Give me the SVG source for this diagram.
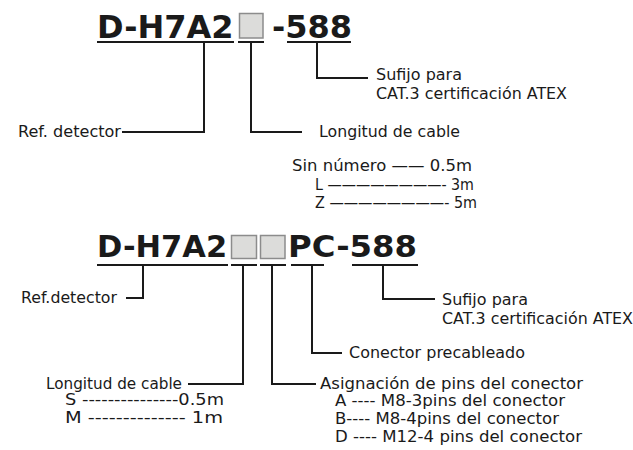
<svg xmlns="http://www.w3.org/2000/svg" width="633" height="450" viewBox="0 0 633 450">
<style>
.t{font-family:"DejaVu Sans","Verdana",sans-serif;font-size:15.5px;fill:#1a1a1a}
.h{font-family:"DejaVu Sans","Verdana",sans-serif;font-weight:bold;fill:#1a1a1a}
.l{stroke:#1a1a1a;stroke-width:2;fill:none}
.b{fill:#dcdcda;stroke:#8c8c8c;stroke-width:1.5}
</style>
<rect width="633" height="450" fill="#ffffff"/>
<g id="title1">
<text class="h" x="97" y="38" font-size="32">D-H7A2</text>
<rect class="b" x="239.5" y="13.5" width="23.5" height="24.5"/>
<text class="h" x="272" y="38" font-size="32">-588</text>
<line class="l" x1="97" y1="42" x2="234" y2="42"/>
<line class="l" x1="238" y1="42" x2="264" y2="42"/>
<line class="l" x1="287" y1="42" x2="351" y2="42"/>
</g>
<g id="suffix1">
<text class="t" x="376" y="80" textLength="86" lengthAdjust="spacingAndGlyphs">Sufijo para</text>
<text class="t" x="376" y="99" textLength="191" lengthAdjust="spacingAndGlyphs">CAT.3 certificación ATEX</text>
</g>
<g id="ref1"><text class="t" x="18" y="137" textLength="103" lengthAdjust="spacingAndGlyphs">Ref. detector</text></g>
<g id="len1">
<text class="t" x="319" y="137" textLength="141" lengthAdjust="spacingAndGlyphs">Longitud de cable</text>
<text class="t" x="292" y="171" textLength="180" lengthAdjust="spacingAndGlyphs">Sin número —— 0.5m</text>
<text class="t" x="315" y="190" textLength="159" lengthAdjust="spacingAndGlyphs">L ————————- 3m</text>
<text class="t" x="315" y="208" textLength="162" lengthAdjust="spacingAndGlyphs">Z ————————- 5m</text>
</g>
<g id="title2">
<text class="h" x="97" y="257" font-size="30.5">D-H7A2</text>
<rect class="b" x="231.5" y="235.5" width="25" height="23"/>
<rect class="b" x="260.5" y="235.5" width="24.5" height="23"/>
<text class="h" x="288" y="257" font-size="30.5" textLength="129" lengthAdjust="spacingAndGlyphs">PC-588</text>
<line class="l" x1="97" y1="265" x2="228" y2="265"/>
<line class="l" x1="231" y1="265" x2="257" y2="265"/>
<line class="l" x1="260" y1="265" x2="286" y2="265"/>
<line class="l" x1="291" y1="265" x2="324" y2="265"/>
<line class="l" x1="352" y1="265" x2="418" y2="265"/>
</g>
<g id="ref2"><text class="t" x="21" y="303" textLength="96" lengthAdjust="spacingAndGlyphs">Ref.detector</text></g>
<g id="suffix2">
<text class="t" x="442" y="305" textLength="86" lengthAdjust="spacingAndGlyphs">Sufijo para</text>
<text class="t" x="442" y="324" textLength="191" lengthAdjust="spacingAndGlyphs">CAT.3 certificación ATEX</text>
</g>
<g id="conn2"><text class="t" x="349" y="358" textLength="176" lengthAdjust="spacingAndGlyphs">Conector precableado</text></g>
<g id="len2">
<text class="t" x="46" y="389" textLength="136" lengthAdjust="spacingAndGlyphs">Longitud de cable</text>
<text class="t" x="65" y="405" textLength="159" lengthAdjust="spacingAndGlyphs">S ---------------0.5m</text>
<text class="t" x="65" y="423" textLength="158" lengthAdjust="spacingAndGlyphs">M --------------  1m</text>
</g>
<g id="pins2">
<text class="t" x="320" y="389" textLength="263" lengthAdjust="spacingAndGlyphs">Asignación de pins del conector</text>
<text class="t" x="335" y="406" textLength="230" lengthAdjust="spacingAndGlyphs">A ---- M8-3pins del conector</text>
<text class="t" x="335" y="424" textLength="224" lengthAdjust="spacingAndGlyphs">B---- M8-4pins del conector</text>
<text class="t" x="335" y="442" textLength="247" lengthAdjust="spacingAndGlyphs">D ---- M12-4 pins del conector</text>
</g>
<g id="connectors">
<polyline class="l" points="204,42 204,132 122,132"/>
<polyline class="l" points="251,42 251,132 302,132"/>
<polyline class="l" points="317,42 317,78 368,78"/>
<polyline class="l" points="143,265 143,298 126,298"/>
<polyline class="l" points="383,265 383,299 435,299"/>
<polyline class="l" points="312,265 312,353 342,353"/>
<polyline class="l" points="243,265 243,384 188,384"/>
<polyline class="l" points="272,265 272,384 316,384"/>
</g>
</svg>
